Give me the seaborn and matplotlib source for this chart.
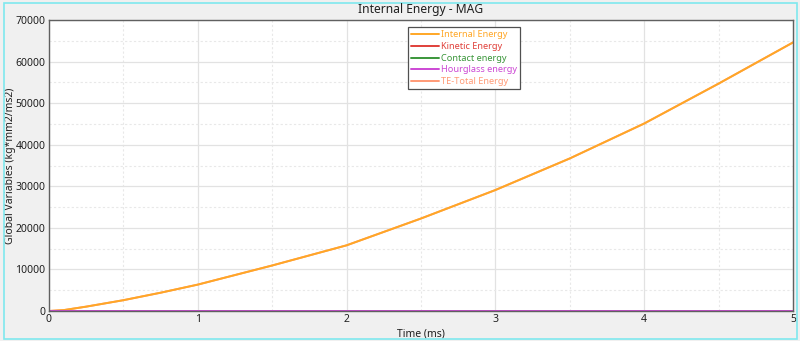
import numpy as np
import pandas as pd
import matplotlib
matplotlib.use("Agg")
import matplotlib.pyplot as plt
from matplotlib.patches import Rectangle
from matplotlib.ticker import MultipleLocator
import seaborn as sns

# Time samples (ms) and energy values (kg*mm2/ms2)
time_ms = [0.0, 0.1, 0.25, 0.5, 0.75, 1.0, 1.5, 2.0, 2.5, 3.0, 3.5, 4.0, 4.5, 5.0]
internal_energy = [0, 220, 1050, 2600, 4400, 6350, 10950, 15800, 22250, 29100, 36700, 45100, 54700, 64600]
kinetic_energy = [0] * len(time_ms)
contact_energy = [0] * len(time_ms)
hourglass_energy = [0] * len(time_ms)
total_energy = internal_energy[:]

series_names = ["Internal Energy", "Kinetic Energy", "Contact energy",
                "Hourglass energy", "TE-Total Energy"]
series_colors = ["#ffa726", "#e0403a", "#3a963a", "#cc48d4", "#ff9a76"]

frames = []
for name, vals in zip(series_names,
                      [internal_energy, kinetic_energy, contact_energy,
                       hourglass_energy, total_energy]):
    frames.append(pd.DataFrame({"Time": time_ms, "Energy": vals, "Series": name}))
df = pd.concat(frames, ignore_index=True)

sns.set_style("white")
plt.rcParams["font.family"] = ["Noto Sans", "DejaVu Sans"]

fig = plt.figure(figsize=(8.0, 3.41), dpi=100, facecolor="#f0f0f0")
ax = fig.add_axes([49 / 800, 30 / 341, 744 / 800, 291 / 341])
ax.set_facecolor("white")

# Draw the total first so the internal curve sits on top; zero lines last
draw_order = ["TE-Total Energy", "Internal Energy", "Kinetic Energy",
              "Contact energy", "Hourglass energy"]
palette = dict(zip(series_names, series_colors))
for name in draw_order:
    sns.lineplot(data=df[df["Series"] == name], x="Time", y="Energy",
                 color=palette[name], linewidth=1.4, ax=ax, legend=False)

ax.set_xlim(0, 5)
ax.set_ylim(0, 70000)
ax.xaxis.set_major_locator(MultipleLocator(1))
ax.xaxis.set_minor_locator(MultipleLocator(0.5))
ax.yaxis.set_major_locator(MultipleLocator(10000))
ax.yaxis.set_minor_locator(MultipleLocator(5000))
ax.grid(which="major", color="#e2e2e2", linewidth=0.9, linestyle="-")
ax.grid(which="minor", color="#e8e8e8", linewidth=0.8, linestyle=(0, (2, 2)))
ax.set_axisbelow(True)

for sp in ax.spines.values():
    sp.set_color("#606060")
    sp.set_linewidth(1.0)

ax.tick_params(axis="both", which="major", labelsize=7.5, colors="#202020",
               length=2, width=0.8, direction="out", pad=0.5)
ax.tick_params(axis="both", which="minor", length=0)
ax.tick_params(axis="x", pad=0)

ax.set_xlabel("Time (ms)", fontsize=7.5, color="#202020")
ax.xaxis.set_label_coords(372 / 744, -18 / 291)
ax.set_ylabel("Global Variables (kg*mm2/ms2)", fontsize=7.5, color="#202020")
ax.yaxis.set_label_coords(-33 / 744, 0.5)
fig.text(421 / 800, 1 - 10 / 341, "Internal Energy - MAG", ha="center",
         va="center", fontsize=8.7, color="#202020")

# Legend with text coloured like each line
handles = [plt.Line2D([], [], color=c, linewidth=1.4) for c in series_colors]
leg = ax.legend(handles, series_names, loc="upper left",
                bbox_to_anchor=(359 / 744, 1 - 7 / 291), fontsize=6.6,
                frameon=True, fancybox=False, edgecolor="#505050",
                framealpha=1, handlelength=3.0, handletextpad=0.25,
                labelspacing=0.3, borderpad=0.35, borderaxespad=0)
leg.get_frame().set_linewidth(0.9)
for txt, c in zip(leg.get_texts(), series_colors):
    txt.set_color(c)

# Cyan frame around the figure
fig.patches.append(Rectangle((4 / 800, 2.5 / 341), 792.5 / 800, 336 / 341,
                             transform=fig.transFigure, fill=False,
                             edgecolor="#7fe8ee", linewidth=1.2))

fig.savefig("out.png", dpi=100, facecolor=fig.get_facecolor())
